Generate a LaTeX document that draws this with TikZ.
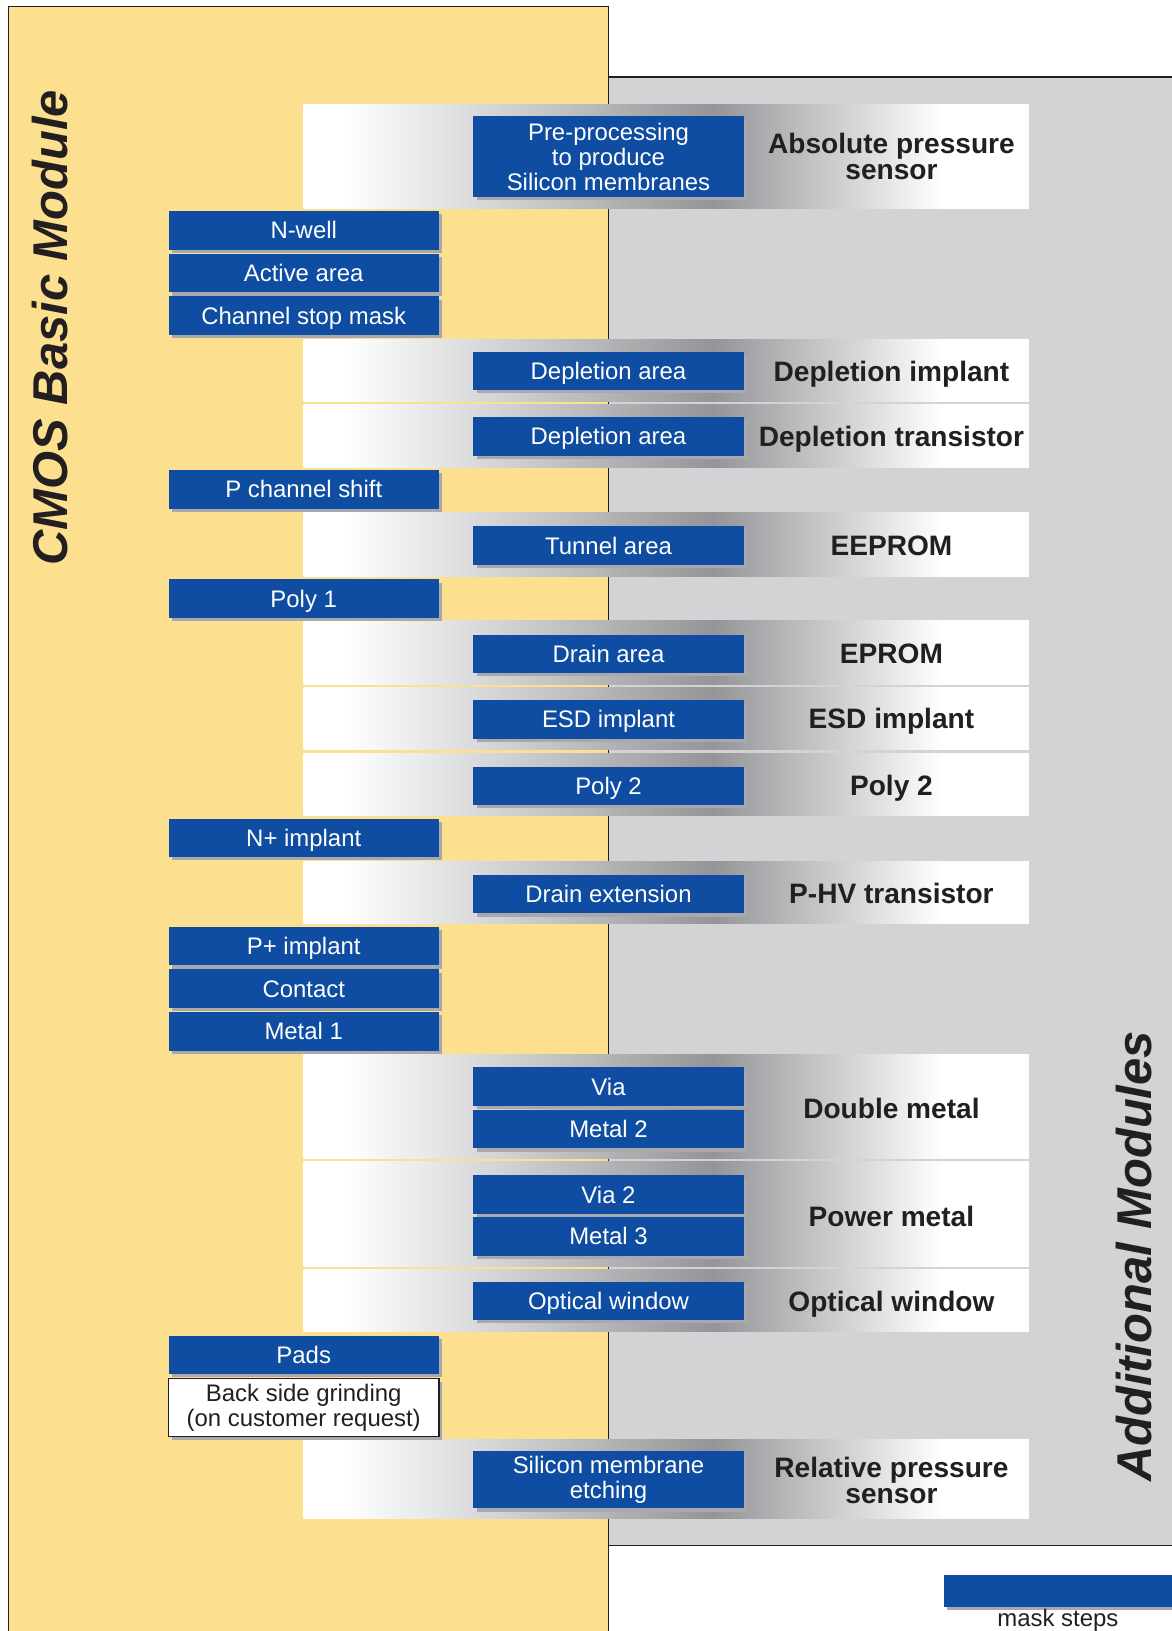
\documentclass[tikz,border=0pt]{standalone}
\usepackage{fontspec}
\setmainfont{Liberation Sans}
\usetikzlibrary{shadows}
\definecolor{panelyellow}{HTML}{FDE08F}
\definecolor{panelgray}{HTML}{D1D3D4}
\definecolor{maskblue}{HTML}{0E4DA1}
\definecolor{banddark}{HTML}{939598}
\definecolor{shadowgray}{HTML}{A7A9AC}
\definecolor{inkdark}{HTML}{231F20}
\pgfdeclarehorizontalshading{bandshade}{100bp}{color(0bp)=(white); color(28bp)=(white); color(53.25bp)=(banddark); color(69.1bp)=(white); color(100bp)=(white)}
\newcommand{\modband}[2]{%
  \shade[shading=bandshade] (292,#1) rectangle (989,#2);}
\begin{document}
\begin{tikzpicture}[x=0.5pt,y=-0.5pt,
  maskbase/.style={fill=maskblue, text=white, minimum width=130pt, minimum height=18.5pt,
    inner sep=0pt, font=\fontsize{11.5}{12}\selectfont, align=center,
    drop shadow={fill=shadowgray, opacity=1, shadow xshift=1.6pt, shadow yshift=-1.6pt}},
  maskbox/.style={maskbase, text height=8.2pt, text depth=0pt},
  modbase/.style={text=inkdark, font=\fontsize{13.5}{12.5}\selectfont\bfseries, align=center, inner sep=0pt},
  modlabel/.style={modbase, text height=9.7pt, text depth=0pt},
  bigtitle/.style={rotate=90, text=inkdark, font=\fontsize{23.5}{28}\selectfont\bfseries\itshape, inner sep=0pt},
  frameline/.style={draw=inkdark, line width=0.6pt}]
\useasboundingbox (0,0) rectangle (1126,1568);
\fill[white] (0,0) rectangle (1126,1568);
% panels
\fill[panelyellow] (8,6) rectangle (585,1580);
\fill[panelgray] (585,74) rectangle (1140,1486);
\draw[frameline] (8,1580) -- (8,6) -- (585,6) -- (585,1580);
\draw[frameline] (585,74) -- (1140,74);
\draw[frameline] (585,1486) -- (1140,1486);
% bands
\modband{100}{200}
\modband{326}{386}
\modband{389}{449}
\modband{493}{554}
\modband{597}{658}
\modband{661}{721}
\modband{724}{784}
\modband{828}{888}
\modband{1014}{1114}
\modband{1117}{1218}
\modband{1220}{1280}
\modband{1384}{1460}
% titles
\node[bigtitle] (cmostitle) at (48,315) {CMOS Basic Module};
\node[bigtitle] (addtitle) at (1090,1208) {Additional Modules};
% basic module mask steps
\node[maskbox] (nwell) at (292,221.5) {N-well};
\node[maskbox] (active) at (292,262.5) {Active area};
\node[maskbox] (chstop) at (292,303.5) {Channel stop mask};
\node[maskbox] (pshift) at (292,470.5) {P channel shift};
\node[maskbox] (poly1) at (292,575.5) {Poly 1};
\node[maskbox] (nplus) at (292,805.5) {N+ implant};
\node[maskbox] (pplus) at (292,909.5) {P+ implant};
\node[maskbox] (contact) at (292,950.5) {Contact};
\node[maskbox] (metal1) at (292,991.5) {Metal 1};
\node[maskbox] (pads) at (292,1302.5) {Pads};
\node[maskbase, fill=white, draw=inkdark, line width=0.6pt, text=inkdark, minimum height=28pt] (bsg) at (292,1353) {Back side grinding\\(on customer request)};
% additional module mask steps
\node[maskbase, minimum height=38.5pt] (preproc) at (585,150.5) {Pre-processing\\to produce\\Silicon membranes};
\node[maskbox] (depl1) at (585,356.5) {Depletion area};
\node[maskbox] (depl2) at (585,419.5) {Depletion area};
\node[maskbox] (tunnel) at (585,524.5) {Tunnel area};
\node[maskbox] (drain) at (585,628.5) {Drain area};
\node[maskbox] (esdmask) at (585,691.5) {ESD implant};
\node[maskbox] (poly2mask) at (585,755.5) {Poly 2};
\node[maskbox] (drainext) at (585,859.5) {Drain extension};
\node[maskbox] (via) at (585,1044.5) {Via};
\node[maskbox] (metal2) at (585,1085.5) {Metal 2};
\node[maskbox] (via2) at (585,1148.5) {Via 2};
\node[maskbox] (metal3) at (585,1188.5) {Metal 3};
\node[maskbox] (opticalmask) at (585,1250.5) {Optical window};
\node[maskbase, minimum height=27.5pt] (simem) at (585,1422.5) {Silicon membrane\\etching};
% module labels
\node[modbase] (abslab) at (857,150) {Absolute pressure\\sensor};
\node[modlabel] (deplimplab) at (857,357) {Depletion implant};
\node[modlabel] (depltrlab) at (857,420) {Depletion transistor};
\node[modlabel] (eepromlab) at (857,524) {EEPROM};
\node[modlabel] (epromlab) at (857,628) {EPROM};
\node[modlabel] (esdlab) at (857,691) {ESD implant};
\node[modlabel] (poly2lab) at (857,755) {Poly 2};
\node[modlabel] (phvlab) at (857,859) {P-HV transistor};
\node[modlabel] (dmetallab) at (857,1066) {Double metal};
\node[modlabel] (pmetallab) at (857,1169) {Power metal};
\node[modlabel] (opticallab) at (857,1251) {Optical window};
\node[modbase] (relplab) at (857,1423) {Relative pressure\\sensor};
% legend
\node[maskbox, minimum width=117pt, minimum height=15.5pt] (legendbox) at (1024.5,1529.5) {};
\node[text=inkdark, font=\fontsize{11.5}{12}\selectfont, anchor=base, inner sep=0pt] (legendtext) at (1017,1564) {mask steps};
\end{tikzpicture}
\end{document}
